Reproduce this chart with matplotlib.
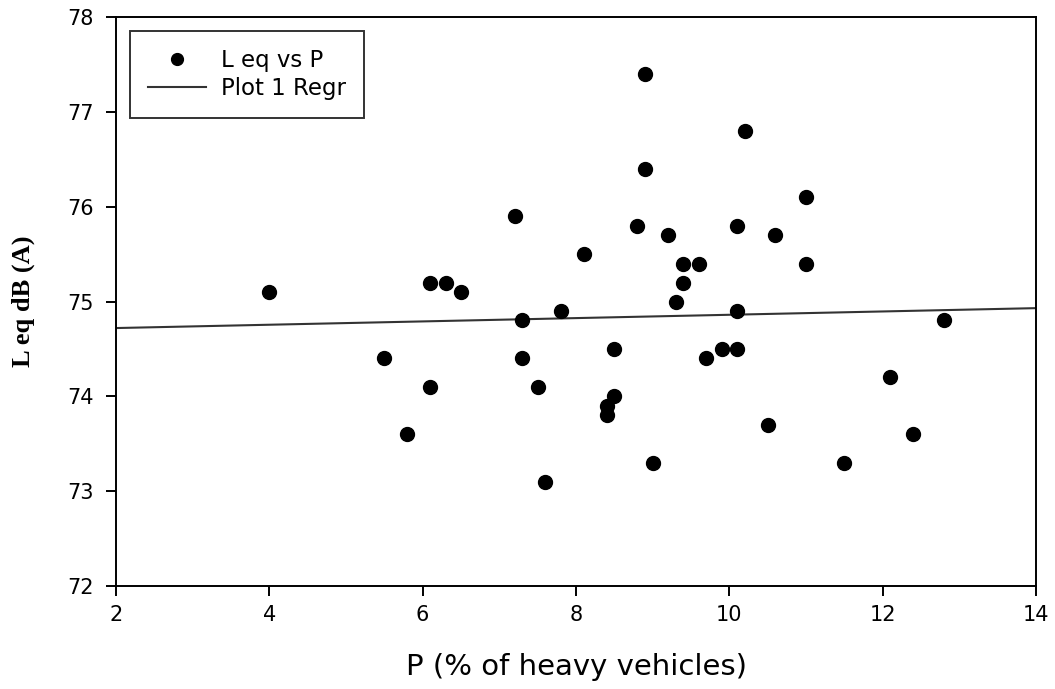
"""Leq vs percentage of heavy vehicles, scatter with linear regression line."""

import matplotlib

matplotlib.use("Agg")
import matplotlib.pyplot as plt

# data
p_heavy = [
    4.0, 5.5, 5.8, 6.1, 6.1, 6.3, 6.5, 7.2, 7.3, 7.3, 7.5, 7.6, 7.8, 8.1,
    8.4, 8.4, 8.5, 8.5, 8.8, 8.9, 8.9, 9.0, 9.2, 9.3, 9.4, 9.4, 9.6, 9.7,
    9.9, 10.1, 10.1, 10.1, 10.2, 10.5, 10.6, 11.0, 11.0, 11.5, 12.1, 12.4, 12.8,
]
leq_db = [
    75.1, 74.4, 73.6, 75.2, 74.1, 75.2, 75.1, 75.9, 74.8, 74.4, 74.1, 73.1, 74.9, 75.5,
    73.9, 73.8, 74.5, 74.0, 75.8, 77.4, 76.4, 73.3, 75.7, 75.0, 75.4, 75.2, 75.4, 74.4,
    74.5, 75.8, 74.5, 74.9, 76.8, 73.7, 75.7, 76.1, 75.4, 73.3, 74.2, 73.6, 74.8,
]
# regression line end points (x range of the axis)
regr_x = [2, 14]
regr_y = [74.72, 74.93]

x_ticks = [2, 4, 6, 8, 10, 12, 14]
y_ticks = [72, 73, 74, 75, 76, 77, 78]

W, H = 1055, 689
fig = plt.figure(figsize=(W / 100, H / 100), dpi=100)
ax = fig.add_axes([116 / W, 1 - 586 / H, (1036 - 116) / W, (586 - 17) / H])

ax.plot(p_heavy, leq_db, "o", color="black", markersize=10, label="L eq vs P", zorder=3)
ax.plot(regr_x, regr_y, "-", color="#333333", linewidth=1.5, label="Plot 1 Regr", zorder=2)

ax.set_xlim(2, 14)
ax.set_ylim(72, 78)
ax.set_xticks(x_ticks)
ax.set_yticks(y_ticks)
ax.tick_params(direction="out", length=7, width=1.4, labelsize=15, colors="black")
ax.tick_params(axis="y", pad=9)
ax.tick_params(axis="x", pad=7)
for spine in ax.spines.values():
    spine.set_linewidth(1.4)

ax.set_xlabel("P (% of heavy vehicles)", fontsize=21, labelpad=20)
ax.set_ylabel("L eq dB (A)", fontsize=19, fontweight="bold",
              family="Liberation Serif", labelpad=23)

leg = ax.legend(
    loc="upper left",
    bbox_to_anchor=(130 / W, 1 - 31 / H),
    bbox_transform=fig.transFigure,
    borderaxespad=0,
    frameon=True,
    fancybox=False,
    edgecolor="black",
    fontsize=16.5,
    handlelength=2.5,
    handletextpad=0.65,
    borderpad=0.8,
    labelspacing=0.2,
    markerscale=0.85,
)
leg.get_frame().set_linewidth(1.4)

fig.savefig("out.png", dpi=100)
plt.close(fig)
